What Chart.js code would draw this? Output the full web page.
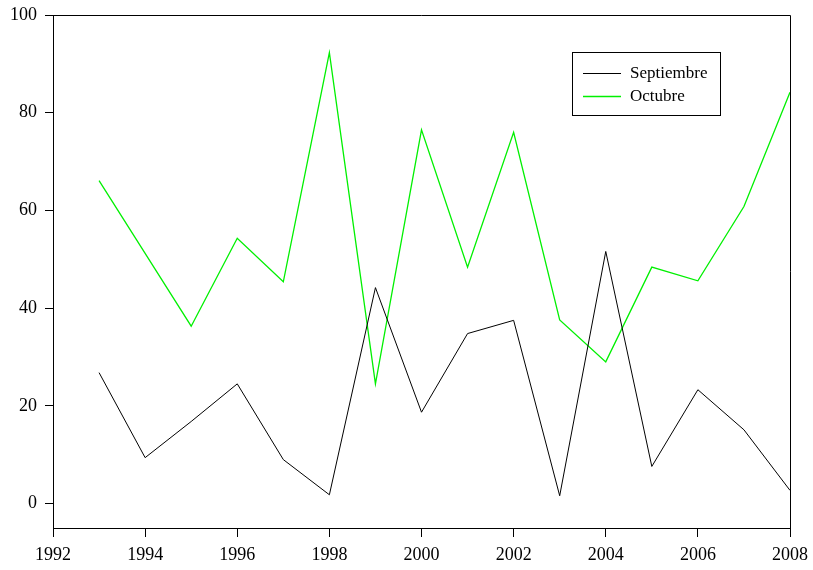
<!DOCTYPE html>
<html>
<head>
<meta charset="utf-8">
<script src="https://cdn.jsdelivr.net/npm/chart.js@4"></script>
<style>
  html, body { margin: 0; padding: 0; background: #fff; }
  #wrap { width: 813px; height: 570px; }
</style>
</head>
<body>
<div id="wrap"><canvas id="c" width="813" height="570"></canvas></div>
<script>
const years = [1993,1994,1995,1996,1997,1998,1999,2000,2001,2002,2003,2004,2005,2006,2007,2008];
const septiembre = [26.8,9.4,16.8,24.5,9.0,1.8,44.2,18.7,34.8,37.5,1.6,51.6,7.6,23.3,15.1,2.7];
const octubre = [66.1,51.2,36.3,54.3,45.4,92.3,24.5,76.5,48.4,76.0,37.6,29.0,48.4,45.6,60.8,84.2];
const xTicks = [1992,1994,1996,1998,2000,2002,2004,2006,2008];
const yTicks = [0,20,40,60,80,100];
const seriesNames = ['Septiembre','Octubre'];

const FONT = 'Liberation Serif, Times New Roman, serif';

const framePlugin = {
  id: 'frame',
  afterDatasetsDraw(chart) {
    const {ctx, chartArea: a} = chart;
    ctx.save();
    ctx.strokeStyle = '#000';
    ctx.lineWidth = 1;
    ctx.beginPath();
    ctx.moveTo(a.left, a.top + 0.5);
    ctx.lineTo(a.right + 0.5, a.top + 0.5);
    ctx.lineTo(a.right + 0.5, a.bottom);
    ctx.stroke();
    // legend box
    const bx = 572.5, by = 52.5, bw = 148, bh = 63;
    ctx.fillStyle = '#fff';
    ctx.fillRect(bx, by, bw, bh);
    ctx.strokeRect(bx, by, bw, bh);
    const rows = [73, 96];
    const colors = ['#000', '#00f000'];
    ctx.font = '17px ' + FONT;
    ctx.textBaseline = 'middle';
    for (let i = 0; i < seriesNames.length; i++) {
      ctx.strokeStyle = colors[i];
      ctx.lineWidth = i === 0 ? 1 : 1.3;
      ctx.beginPath();
      ctx.moveTo(583, rows[i] + 0.5);
      ctx.lineTo(621, rows[i] + 0.5);
      ctx.stroke();
      ctx.fillStyle = '#000';
      ctx.fillText(seriesNames[i], 630, rows[i] + 1);
    }
    ctx.restore();
  }
};

new Chart(document.getElementById('c'), {
  type: 'line',
  data: {
    datasets: [
      {
        label: seriesNames[0],
        data: years.map((y, i) => ({x: y, y: septiembre[i]})),
        borderColor: '#000',
        borderWidth: 1,
        pointRadius: 0,
        tension: 0,
        fill: false
      },
      {
        label: seriesNames[1],
        data: years.map((y, i) => ({x: y, y: octubre[i]})),
        borderColor: '#00f000',
        borderWidth: 1.3,
        pointRadius: 0,
        tension: 0,
        fill: false
      }
    ]
  },
  options: {
    responsive: false,
    animation: false,
    devicePixelRatio: 1,
    layout: { padding: { top: 15, right: 23, left: 0, bottom: 0 } },
    plugins: { legend: { display: false }, tooltip: { enabled: false } },
    scales: {
      x: {
        type: 'linear',
        min: 1992,
        max: 2008,
        afterBuildTicks(scale) { scale.ticks = xTicks.map(v => ({value: v})); },
        afterFit(scale) { scale.height = 42; scale.paddingLeft = 0; scale.paddingRight = 0; },
        grid: { display: true, drawOnChartArea: false, drawTicks: true, tickLength: 9, color: '#000', lineWidth: 1 },
        border: { display: true, color: '#000', width: 1 },
        ticks: { color: '#000', font: { family: FONT, size: 18 }, padding: 7, maxRotation: 0, autoSkip: false, callback: v => String(v) }
      },
      y: {
        type: 'linear',
        min: -5,
        max: 100,
        afterBuildTicks(scale) { scale.ticks = yTicks.map(v => ({value: v})); },
        afterFit(scale) { scale.width = 53; scale.paddingTop = 0; scale.paddingBottom = 0; },
        grid: { display: true, drawOnChartArea: false, drawTicks: true, tickLength: 8, color: '#000', lineWidth: 1 },
        border: { display: true, color: '#000', width: 1 },
        ticks: { color: '#000', font: { family: FONT, size: 18 }, padding: 8, callback: v => String(v) }
      }
    }
  },
  plugins: [framePlugin]
});
</script>
</body>
</html>
